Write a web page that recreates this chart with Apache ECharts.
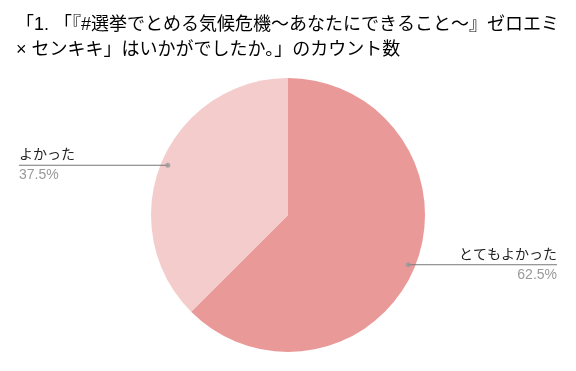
<!DOCTYPE html>
<html><head><meta charset="utf-8">
<script src="https://cdn.jsdelivr.net/npm/echarts@6/dist/echarts.min.js"></script>
<style>html,body{margin:0;padding:0;background:#fff}#c{width:576px;height:371px}</style>
</head><body><div id="c"></div>
<script>
var titleText = "「1. 「『#選挙でとめる気候危機～あなたにできること～』ゼロエミ\n× センキキ」はいかがでしたか。」のカウント数";
var categories = ["とてもよかった", "よかった"];
var counts = [5, 3];
var colors = ["#ea9999", "#f4cccc"];

var font = '"Liberation Sans", Arial, "Noto Sans CJK JP", sans-serif';
var total = counts.reduce(function (a, b) { return a + b; }, 0);
var pieData = categories.map(function (c, i) { return { name: c, value: counts[i] }; });
var dotData = [];
var acc = 0;
counts.forEach(function (v) { dotData.push([0.95, (acc + v / 2) / total * 100]); acc += v; });

var chart = echarts.init(document.getElementById('c'), null, { renderer: 'canvas' });
chart.setOption({
  animation: false,
  backgroundColor: '#fff',
  title: {
    text: titleText, left: 16, top: 13, padding: 0,
    textStyle: { fontFamily: font, fontSize: 18, fontWeight: 'normal', color: '#000', lineHeight: 25 }
  },
  polar: { center: [288, 215], radius: 137 },
  angleAxis: { type: 'value', min: 0, max: 100, startAngle: 90, clockwise: true, show: false },
  radiusAxis: { type: 'value', min: 0, max: 1, show: false },
  series: [
    {
      type: 'pie', center: [288, 215], radius: 137, startAngle: 90, clockwise: true,
      silent: true, z: 1,
      color: colors, data: pieData,
      itemStyle: { borderWidth: 0 },
      label: { show: false }, labelLine: { show: false }
    },
    {
      type: 'pie', center: [288, 215], radius: 130, startAngle: 90, clockwise: true,
      silent: true, z: 3,
      data: pieData,
      itemStyle: { color: 'rgba(0,0,0,0)', borderWidth: 0 },
      label: {
        show: true, position: 'outside', alignTo: 'edge', edgeDistance: 19,
        formatter: '{n|{b}}\n{p|{d}%}',
        rich: {
          n: { fontFamily: font, fontSize: 14, color: '#222', lineHeight: 20 },
          p: { fontFamily: font, fontSize: 14, color: '#999', lineHeight: 20 }
        }
      },
      labelLine: { show: true, length: 0, length2: 10, smooth: false, lineStyle: { color: '#777', width: 1 } },
      labelLayout: function (p) {
        var pts = p.labelLinePoints;
        if (!pts || !pts.length) return {};
        var start = pts[0];
        var r = p.labelRect;
        var isLeft = r.x + r.width / 2 < start[0];
        var endX = isLeft ? r.x : r.x + r.width;
        return { labelLinePoints: [start, [endX, start[1]]] };
      }
    },
    {
      type: 'scatter', coordinateSystem: 'polar', z: 4, silent: true,
      symbolSize: 5, itemStyle: { color: '#999' },
      data: dotData
    }
  ]
});
</script>
</body></html>
